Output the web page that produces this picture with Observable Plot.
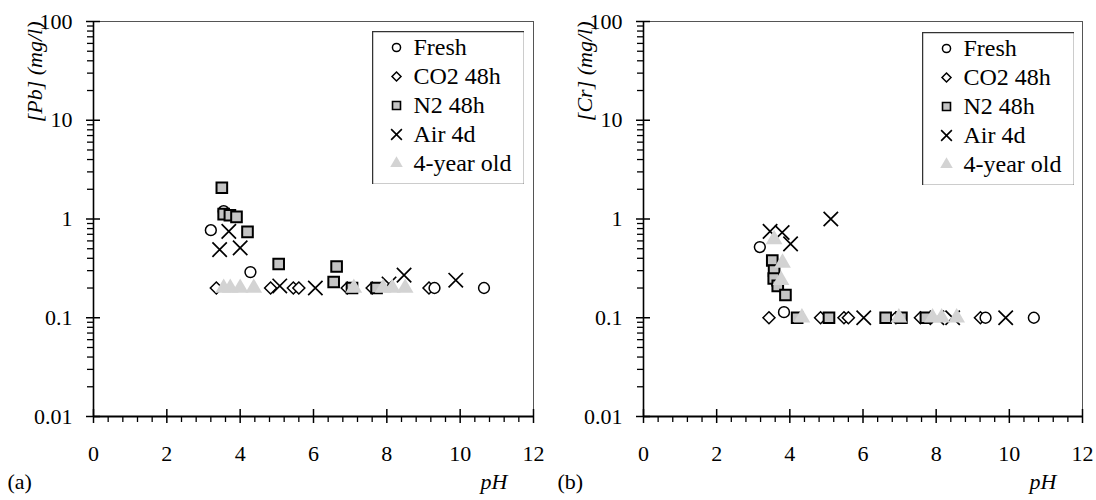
<!DOCTYPE html>
<html><head><meta charset="utf-8">
<script src="https://cdn.jsdelivr.net/npm/d3@7"></script>
<script src="https://cdn.jsdelivr.net/npm/@observablehq/plot@0.6"></script>
<style>
html,body{margin:0;padding:0;background:#fff;}
#wrap{position:relative;width:1096px;height:500px;display:flex;}
.legend{position:absolute;}
svg{display:block}
svg text{font-family:"Liberation Serif","Times New Roman",serif;}
</style></head><body><div id="wrap"></div>
<script>
// ---- categories / ticks ----
const series = ["Fresh", "CO2 48h", "N2 48h", "Air 4d", "4-year old"];
const xTicks = [0, 2, 4, 6, 8, 10, 12];
const yTicks = [0.01, 0.1, 1, 10, 100];

// ---- (a) Pb ----
const pbFreshPH = [3.2, 3.55, 4.28, 9.3, 10.65];
const pbFresh   = [0.77, 1.2, 0.29, 0.2, 0.2];
const pbCO2PH   = [3.35, 4.83, 5.45, 5.6, 6.92, 7.6, 9.15];
const pbCO2     = [0.2, 0.2, 0.2, 0.2, 0.2, 0.2, 0.2];
const pbN2PH    = [3.5, 3.55, 3.72, 3.9, 4.2, 5.05, 6.63, 6.55, 7.05, 7.72];
const pbN2      = [2.07, 1.12, 1.09, 1.05, 0.74, 0.35, 0.33, 0.23, 0.2, 0.2];
const pbAirPH   = [3.44, 3.69, 4.0, 5.08, 6.05, 8.06, 8.47, 9.88];
const pbAir     = [0.49, 0.75, 0.51, 0.21, 0.2, 0.22, 0.27, 0.24];
const pbOldPH   = [3.55, 3.73, 4.0, 4.37, 7.1, 7.9, 8.15, 8.5];
const pbOld     = [0.2, 0.2, 0.2, 0.2, 0.2, 0.2, 0.2, 0.2];

// ---- (b) Cr ----
const crFreshPH = [3.18, 3.65, 3.84, 9.35, 10.67];
const crFresh   = [0.52, 0.22, 0.114, 0.1, 0.1];
const crCO2PH   = [3.43, 4.84, 5.48, 5.6, 6.9, 7.57, 9.21];
const crCO2     = [0.1, 0.1, 0.1, 0.1, 0.1, 0.1, 0.1];
const crN2PH    = [3.52, 3.57, 3.56, 3.67, 3.88, 4.2, 5.07, 6.62, 7.05, 7.72];
const crN2      = [0.38, 0.3, 0.25, 0.21, 0.17, 0.1, 0.1, 0.1, 0.1, 0.1];
const crAirPH   = [3.46, 3.79, 4.02, 5.12, 6.02, 8.02, 8.45, 9.9];
const crAir     = [0.75, 0.73, 0.56, 1.0, 0.1, 0.1, 0.1, 0.1];
const crOldPH   = [3.57, 3.8, 3.76, 4.33, 6.98, 7.9, 8.15, 8.56];
const crOld     = [0.62, 0.36, 0.24, 0.1, 0.1, 0.1, 0.1, 0.1];

// ---- build tables ----
function rows(ph, v, s) { return ph.map((p, i) => ({pH: p, value: v[i], series: s})); }
const pbData = [
  ...rows(pbFreshPH, pbFresh, "Fresh"), ...rows(pbCO2PH, pbCO2, "CO2 48h"),
  ...rows(pbN2PH, pbN2, "N2 48h"), ...rows(pbAirPH, pbAir, "Air 4d"),
  ...rows(pbOldPH, pbOld, "4-year old")
];
const crData = [
  ...rows(crFreshPH, crFresh, "Fresh"), ...rows(crCO2PH, crCO2, "CO2 48h"),
  ...rows(crN2PH, crN2, "N2 48h"), ...rows(crAirPH, crAir, "Air 4d"),
  ...rows(crOldPH, crOld, "4-year old")
];

const styles = {
  "Fresh":      {symbol: "circle",   fill: "white",   stroke: "black", strokeWidth: 1.5, r: 5.4},
  "CO2 48h":    {symbol: "diamond2", fill: "white",   stroke: "black", strokeWidth: 1.5, r: 5.4},
  "N2 48h":     {symbol: "square",   fill: "#c4c4c4", stroke: "black", strokeWidth: 2,   r: 6},
  "Air 4d":     {symbol: "times",    fill: "none",    stroke: "black", strokeWidth: 1.7, r: 6.6},
  "4-year old": {symbol: "triangle", fill: "#d3d3d3", stroke: "none",  strokeWidth: 0,   r: 6.2}
};
const drawOrder = ["CO2 48h", "Fresh", "N2 48h", "Air 4d", "4-year old"];

const xMinor = d3.range(0, 12.001, 0.4).filter(v => Math.abs(v / 2 - Math.round(v / 2)) > 1e-6);
const yMinor = [];
[0.01, 0.1, 1, 10].forEach(d => { for (let k = 2; k <= 9; k++) yMinor.push(d * k); });

const FONT = "Liberation Serif, Times New Roman, serif";

function panel(data, yLabel, tag, mL, mR) {
  const W = 548, H = 500, mT = 21, mB = 84;
  const fw = W - mL - mR, fh = H - mT - mB;
  const dots = drawOrder.map(s => {
    const st = styles[s];
    return Plot.dot(data.filter(d => d.series === s), {
      x: "pH", y: "value", symbol: st.symbol, r: st.r,
      fill: st.fill, stroke: st.stroke, strokeWidth: st.strokeWidth
    });
  });
  return Plot.plot({
    width: W, height: H, marginLeft: mL, marginRight: mR, marginTop: mT, marginBottom: mB,
    x: {domain: [0, 12], label: null},
    y: {type: "log", domain: [0.01, 100], label: null},
    style: {fontFamily: FONT, fontSize: "22px", color: "black", background: "white"},
    marks: [
      Plot.frame({stroke: "#555", strokeWidth: 1}),
      Plot.axisX({ticks: xMinor, tickSize: 6, tickFormat: () => "", strokeWidth: 1.3}),
      Plot.axisX({ticks: xTicks, tickSize: 7, tickPadding: 22, strokeWidth: 1.5, tickFormat: d => String(d), fontSize: 22}),
      Plot.tickX(xTicks, {x: d => d, insetTop: fh - 7, strokeWidth: 1.5}),
      Plot.axisY({ticks: yMinor, tickSize: 6, tickFormat: () => "", strokeWidth: 1.3}),
      Plot.axisY({ticks: yTicks, tickSize: 7, tickPadding: 14, strokeWidth: 1.5, tickFormat: d => String(d), fontSize: 22}),
      Plot.tickY(yTicks, {y: d => d, insetRight: fw - 7, strokeWidth: 1.5}),
      Plot.ruleX([0], {strokeWidth: 1.6}),
      Plot.ruleY([0.01], {strokeWidth: 2}),
      ...dots,
      Plot.text([yLabel], {text: d => d, frameAnchor: "top-left", dx: -67, rotate: -90, textAnchor: "end", fontStyle: "italic", fontSize: 22}),
      Plot.text([tag], {text: d => d, frameAnchor: "bottom-left", dx: -86, dy: 72, textAnchor: "start", fontSize: 22}),
      Plot.text(["pH"], {text: d => d, frameAnchor: "bottom-right", dx: -26, dy: 72, fontStyle: "italic", fontSize: 22})
    ]
  });
}

function legend() {
  const marks = [Plot.frame({stroke: "#333", strokeWidth: 1.5})];
  series.forEach(s => {
    const st = styles[s];
    marks.push(Plot.dot([s], {y: d => d, frameAnchor: "left", dx: 24, symbol: st.symbol,
      r: st.r * 0.75, fill: st.fill, stroke: st.stroke, strokeWidth: Math.min(st.strokeWidth, 1.6)}));
  });
  marks.push(Plot.text(series, {y: d => d, text: d => d, frameAnchor: "left", dx: 41, textAnchor: "start", fontSize: 24}));
  return Plot.plot({
    width: 152, height: 153, margin: 0,
    y: {type: "point", domain: series, range: [16, 132], padding: 0, axis: null},
    style: {fontFamily: FONT, fontSize: "24px", color: "black", background: "white"},
    marks
  });
}

const wrap = document.getElementById("wrap");
wrap.appendChild(panel(pbData, "[Pb] (mg/l)", "(a)", 93, 15));
wrap.appendChild(panel(crData, "[Cr] (mg/l)", "(b)", 95, 14));
const l1 = legend(); l1.classList.add("legend"); l1.style.left = "372px"; l1.style.top = "31px";
const l2 = legend(); l2.classList.add("legend"); l2.style.left = "922px"; l2.style.top = "32px";
wrap.appendChild(l1); wrap.appendChild(l2);
</script></body></html>
